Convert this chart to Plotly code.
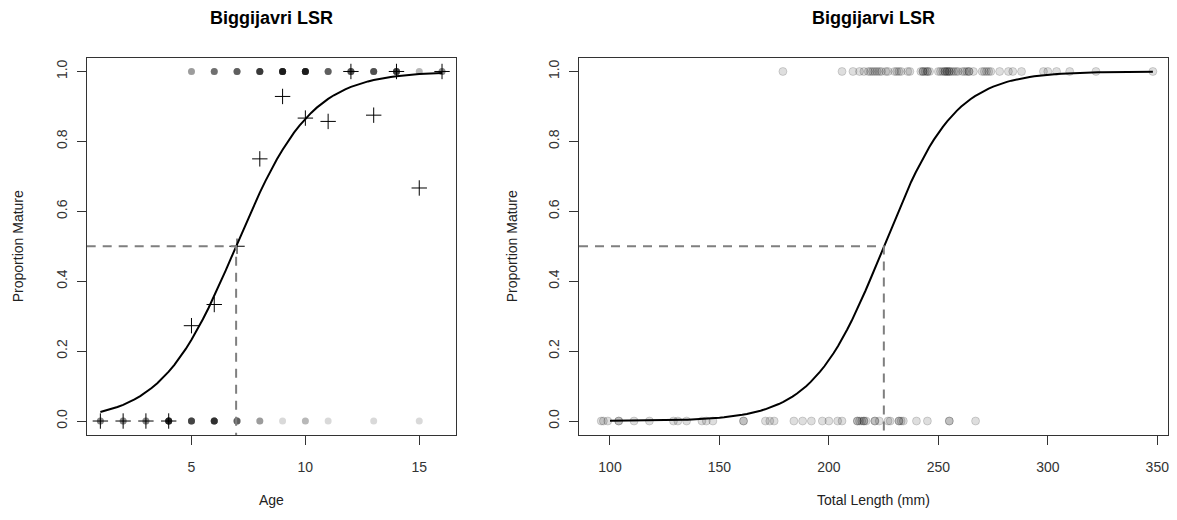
import numpy as np
import plotly.graph_objects as go

# ---------------- data ----------------
# Left panel: maturity by age (counts of fish per age)
ages = list(range(1, 17))
n_mature = [0, 0, 0, 0, 3, 5, 6, 9, 13, 13, 6, 7, 7, 9, 2, 4]
n_immature = [4, 4, 4, 12, 8, 10, 6, 3, 1, 2, 1, 0, 1, 0, 1, 0]
age_x50 = 6.96        # age at 50 % maturity
age_slope = 0.61      # logistic slope (per year)
age_curve_span = [1, 16]

# Right panel: maturity by total length (mm), one value per fish
mature_len = [179, 206, 211, 214, 216, 218, 219, 220, 221, 222, 223, 224, 226,
              227, 230, 231, 232, 233, 236, 237, 242, 243, 243, 244, 245, 245,
              246, 250, 251, 252, 253, 253, 254, 254, 255, 255, 256, 257, 258,
              259, 261, 262, 263, 264, 264, 266, 270, 271, 272, 273, 274, 278,
              282, 284, 288, 298, 300, 304, 310, 322, 348]
immature_len = [96, 97, 99, 104, 104, 111, 118, 129, 131, 135, 142, 144, 147,
                161, 161, 171, 173, 175, 184, 188, 192, 197, 200, 204, 206,
                213, 213, 214, 215, 216, 216, 217, 221, 221, 223, 227, 228,
                232, 232, 233, 234, 240, 245, 255, 255, 267]
len_x50 = 225.1       # length at 50 % maturity
len_slope = 0.062     # logistic slope (per mm)
len_curve_span = [100, 348]

y_ticks = [0.0, 0.2, 0.4, 0.6, 0.8, 1.0]
age_ticks = [5, 10, 15]
len_ticks = [100, 150, 200, 250, 300, 350]

left_title = "Biggijavri LSR"
right_title = "Biggijarvi LSR"
y_label = "Proportion Mature"
age_label = "Age"
len_label = "Total Length (mm)"

# ---------------- geometry ----------------
W, H = 1177, 520
FONT = "Liberation Sans, Arial, Helvetica, sans-serif"
L_X0, L_X1 = 86.7, 455.7
R_X0, R_X1 = 579.0, 1168.0
P_Y0, P_Y1 = 57.5, 435.0
age_range = [0.4, 16.6]
len_range = [85.85, 354.9]
y_range = [-0.04, 1.04]


def px(x):
    return x / W


def py(y):
    return 1 - y / H


fig = go.Figure()

# ---- left panel ----
pt_x_m = [a for a, n in zip(ages, n_mature) for _ in range(n)]
pt_x_i = [a for a, n in zip(ages, n_immature) for _ in range(n)]
fig.add_trace(go.Scatter(
    x=pt_x_m + pt_x_i, y=[1] * len(pt_x_m) + [0] * len(pt_x_i),
    mode="markers", xaxis="x", yaxis="y", hoverinfo="skip",
    marker=dict(size=7, color="rgba(0,0,0,0.15)", line=dict(width=0))))

prop = [m / (m + i) for m, i in zip(n_mature, n_immature)]
fig.add_trace(go.Scatter(
    x=ages, y=prop, mode="markers", xaxis="x", yaxis="y",
    marker=dict(symbol="cross-thin", size=11, color="black",
                line=dict(width=1, color="black"))))

ax = np.linspace(age_curve_span[0], age_curve_span[1], 61)
ap = 1 / (1 + np.exp(-age_slope * (ax - age_x50)))
fig.add_trace(go.Scatter(x=ax, y=ap, mode="lines", xaxis="x", yaxis="y",
                         line=dict(color="black", width=2)))
fig.add_trace(go.Scatter(
    x=[age_range[0], age_x50, age_x50], y=[0.5, 0.5, y_range[0]],
    mode="lines", xaxis="x", yaxis="y",
    line=dict(color="#7f7f7f", width=2, dash="9px,7px")))

# ---- right panel ----
fig.add_trace(go.Scatter(
    x=mature_len + immature_len,
    y=[1] * len(mature_len) + [0] * len(immature_len),
    mode="markers", xaxis="x2", yaxis="y2", hoverinfo="skip",
    marker=dict(size=8, color="rgba(0,0,0,0.13)",
                line=dict(width=1, color="rgba(0,0,0,0.15)"))))

lx = np.linspace(len_curve_span[0], len_curve_span[1], 120)
lp = 1 / (1 + np.exp(-len_slope * (lx - len_x50)))
fig.add_trace(go.Scatter(x=lx, y=lp, mode="lines", xaxis="x2", yaxis="y2",
                         line=dict(color="black", width=2)))
fig.add_trace(go.Scatter(
    x=[len_range[0], len_x50, len_x50], y=[0.5, 0.5, y_range[0]],
    mode="lines", xaxis="x2", yaxis="y2",
    line=dict(color="#7f7f7f", width=2, dash="9px,7px")))

axis_common = dict(showline=True, mirror=True, linecolor="#333", linewidth=1,
                   ticks="outside", ticklen=9, tickcolor="#333", tickwidth=1,
                   showgrid=False, zeroline=False,
                   tickfont=dict(family=FONT, size=14, color="#333"))

fig.update_layout(
    width=W, height=H, autosize=False,
    margin=dict(l=0, r=0, t=0, b=0),
    paper_bgcolor="white", plot_bgcolor="white",
    showlegend=False,
    xaxis=dict(domain=[px(L_X0), px(L_X1)], range=age_range, anchor="y",
               tickvals=age_ticks, ticklabelstandoff=10, **axis_common),
    yaxis=dict(domain=[py(P_Y1), py(P_Y0)], range=y_range, anchor="x",
               tickvals=y_ticks, tickformat=".1f", tickangle=-90,
               ticklabelstandoff=4, **axis_common),
    xaxis2=dict(domain=[px(R_X0), px(R_X1)], range=len_range, anchor="y2",
                tickvals=len_ticks, ticklabelstandoff=10, **axis_common),
    yaxis2=dict(domain=[py(P_Y1), py(P_Y0)], range=y_range, anchor="x2",
                tickvals=y_ticks, tickformat=".1f", tickangle=-90,
                ticklabelstandoff=4, **axis_common),
)

ann = []
for cx, txt in [((L_X0 + L_X1) / 2, left_title), ((R_X0 + R_X1) / 2, right_title)]:
    ann.append(dict(x=px(cx), y=py(18), xref="paper", yref="paper",
                    text="<b>" + txt + "</b>", showarrow=False,
                    xanchor="center", yanchor="middle",
                    font=dict(family=FONT, size=18, color="black")))
for cx, txt in [((L_X0 + L_X1) / 2, age_label), ((R_X0 + R_X1) / 2, len_label)]:
    ann.append(dict(x=px(cx), y=py(500), xref="paper", yref="paper",
                    text=txt, showarrow=False, xanchor="center", yanchor="middle",
                    font=dict(family=FONT, size=14, color="#222")))
for cx in [18, 512]:
    ann.append(dict(x=px(cx), y=py((P_Y0 + P_Y1) / 2), xref="paper", yref="paper",
                    text=y_label, showarrow=False, textangle=-90,
                    xanchor="center", yanchor="middle",
                    font=dict(family=FONT, size=14, color="#222")))
fig.update_layout(annotations=ann)

fig.write_html("out.html",
               config={"displayModeBar": False},
               post_script="document.body.style.margin='0';"
                           "document.body.style.overflow='hidden';")
